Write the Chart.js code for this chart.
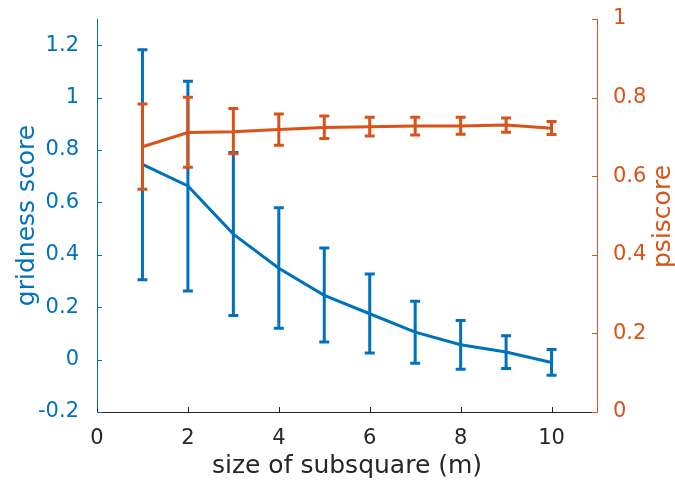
<!DOCTYPE html>
<html>
<head>
<meta charset="utf-8">
<script src="https://cdn.jsdelivr.net/npm/chart.js@4.4.1/dist/chart.umd.min.js"></script>
<style>
  html, body { margin: 0; padding: 0; background: #fff; }
  #wrap { width: 675px; height: 481px; }
</style>
</head>
<body>
<div id="wrap"><canvas id="c" width="675" height="481"></canvas></div>
<script>
// size of subsquare (m)
var sizes = [1, 2, 3, 4, 5, 6, 7, 8, 9, 10];

// gridness score (left axis), mean and error bar ends
var gridMean  = [0.745, 0.663, 0.479, 0.349, 0.245, 0.175, 0.105, 0.057, 0.029, -0.011];
var gridUpper = [1.183, 1.062, 0.790, 0.580, 0.426, 0.327, 0.223, 0.149, 0.091, 0.039];
var gridLower = [0.305, 0.262, 0.168, 0.120, 0.067, 0.025, -0.014, -0.037, -0.034, -0.060];

// psiscore (right axis)
var psiMean  = [0.675, 0.711, 0.713, 0.719, 0.724, 0.726, 0.728, 0.728, 0.730, 0.722];
var psiUpper = [0.784, 0.801, 0.772, 0.758, 0.753, 0.750, 0.750, 0.750, 0.748, 0.739];
var psiLower = [0.567, 0.623, 0.657, 0.679, 0.696, 0.702, 0.705, 0.707, 0.712, 0.706];

var xTicks = [0, 2, 4, 6, 8, 10];
var leftTicks = [-0.2, 0, 0.2, 0.4, 0.6, 0.8, 1, 1.2];
var rightTicks = [0, 0.2, 0.4, 0.6, 0.8, 1];

var BLUE = '#0072BD';
var ORANGE = '#D95319';
var DARK = '#262626';
var FONT = '"DejaVu Sans", sans-serif';

function pts(ys) {
  return sizes.map(function(x, i) { return { x: x, y: ys[i] }; });
}

// error bars drawn through the dataset's own scales
var errorBars = {
  id: 'errorBars',
  afterDatasetDraw: function(chart, args) {
    var ds = chart.data.datasets[args.index];
    if (!ds.errLow) return;
    var ctx = chart.ctx;
    var xs = chart.scales.x;
    var ys = chart.scales[ds.yAxisID];
    ctx.save();
    ctx.strokeStyle = ds.borderColor;
    ctx.lineWidth = 3;
    ctx.lineCap = 'butt';
    sizes.forEach(function(x, i) {
      var px = xs.getPixelForValue(x);
      var top = ys.getPixelForValue(ds.errHigh[i]);
      var bot = ys.getPixelForValue(ds.errLow[i]);
      ctx.beginPath();
      ctx.moveTo(px, top - 1.5); ctx.lineTo(px, bot + 1.5);
      ctx.moveTo(px - 5, top); ctx.lineTo(px + 5, top);
      ctx.moveTo(px - 5, bot); ctx.lineTo(px + 5, bot);
      ctx.stroke();
    });
    ctx.restore();
  }
};

// inward tick marks and axis titles, matlab style
var axisDecor = {
  id: 'axisDecor',
  afterDraw: function(chart) {
    var ctx = chart.ctx;
    var a = chart.chartArea;
    var len = 5;
    ctx.save();
    ctx.lineWidth = 1;

    ctx.strokeStyle = DARK;
    chart.scales.x.ticks.forEach(function(t) {
      var p = Math.round(chart.scales.x.getPixelForValue(t.value)) + 0.5;
      ctx.beginPath(); ctx.moveTo(p, a.bottom); ctx.lineTo(p, a.bottom - len); ctx.stroke();
    });
    ctx.strokeStyle = BLUE;
    chart.scales.yL.ticks.forEach(function(t) {
      var p = Math.round(chart.scales.yL.getPixelForValue(t.value)) + 0.5;
      ctx.beginPath(); ctx.moveTo(a.left, p); ctx.lineTo(a.left + len, p); ctx.stroke();
    });
    ctx.strokeStyle = ORANGE;
    chart.scales.yR.ticks.forEach(function(t) {
      var p = Math.round(chart.scales.yR.getPixelForValue(t.value)) + 0.5;
      ctx.beginPath(); ctx.moveTo(a.right, p); ctx.lineTo(a.right - len, p); ctx.stroke();
    });

    ctx.font = '25px ' + FONT;
    ctx.textAlign = 'center';
    ctx.textBaseline = 'middle';
    ctx.fillStyle = DARK;
    ctx.fillText('size of subsquare (m)', (a.left + a.right) / 2, 466);

    ctx.fillStyle = BLUE;
    ctx.save();
    ctx.translate(27, (a.top + a.bottom) / 2);
    ctx.rotate(-Math.PI / 2);
    ctx.fillText('gridness score', 0, 0);
    ctx.restore();

    ctx.fillStyle = ORANGE;
    ctx.save();
    ctx.translate(663, (a.top + a.bottom) / 2 + 1);
    ctx.rotate(-Math.PI / 2);
    ctx.fillText('psiscore', 0, 0);
    ctx.restore();

    ctx.restore();
  }
};

function fixTicks(list) {
  return function(scale) {
    scale.ticks = list.map(function(v) { return { value: v }; });
  };
}

new Chart(document.getElementById('c'), {
  type: 'line',
  data: {
    datasets: [
      {
        label: 'gridness score',
        data: pts(gridMean),
        errLow: gridLower,
        errHigh: gridUpper,
        yAxisID: 'yL',
        borderColor: BLUE,
        borderWidth: 3,
        pointRadius: 0,
        tension: 0,
        fill: false,
        order: 2
      },
      {
        label: 'psiscore',
        data: pts(psiMean),
        errLow: psiLower,
        errHigh: psiUpper,
        yAxisID: 'yR',
        borderColor: ORANGE,
        borderWidth: 3,
        pointRadius: 0,
        tension: 0,
        fill: false,
        order: 1
      }
    ]
  },
  options: {
    responsive: false,
    animation: false,
    layout: { padding: { top: 19, left: 0, right: 0, bottom: 0 } },
    plugins: { legend: { display: false }, tooltip: { enabled: false } },
    scales: {
      x: {
        type: 'linear',
        min: 0, max: 11,
        afterBuildTicks: fixTicks(xTicks),
        afterFit: function(s) { s.height = 69; },
        grid: { display: false },
        border: { display: true, color: DARK, width: 1 },
        ticks: { color: DARK, font: { family: FONT, size: 21 }, padding: 6, maxRotation: 0,
                  callback: function(v) { return String(v); } }
      },
      yL: {
        type: 'linear',
        position: 'left',
        min: -0.2, max: 1.3,
        afterBuildTicks: fixTicks(leftTicks),
        afterFit: function(s) { s.width = 97; },
        grid: { display: false },
        border: { display: true, color: BLUE, width: 1 },
        ticks: { color: BLUE, font: { family: FONT, size: 21, lineHeight: 0.8 }, padding: 10,
                  callback: function(v) { return String(v); } }
      },
      yR: {
        type: 'linear',
        position: 'right',
        min: 0, max: 1,
        afterBuildTicks: fixTicks(rightTicks),
        afterFit: function(s) { s.width = 78; },
        grid: { display: false },
        border: { display: true, color: ORANGE, width: 1 },
        ticks: { color: ORANGE, font: { family: FONT, size: 21, lineHeight: 0.8 }, padding: 8,
                  callback: function(v) { return String(v); } }
      }
    }
  },
  plugins: [errorBars, axisDecor]
});
</script>
</body>
</html>
